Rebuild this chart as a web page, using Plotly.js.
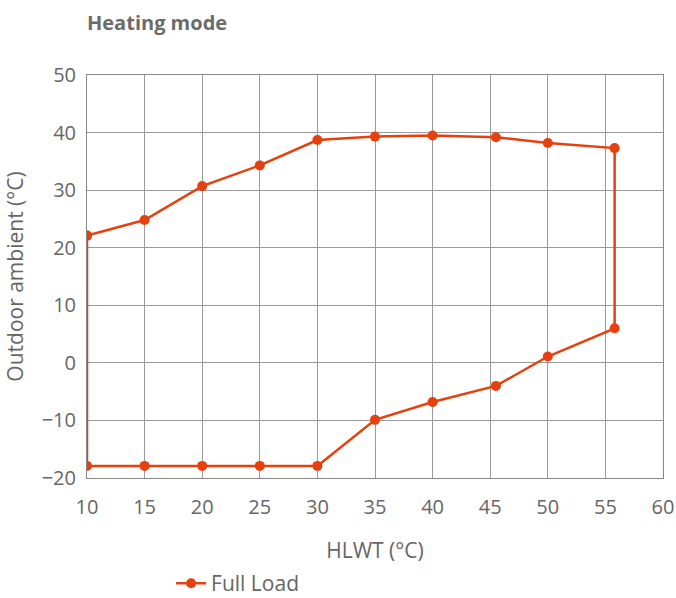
<!DOCTYPE html>
<html>
<head>
<meta charset="utf-8">
<script src="https://cdn.plot.ly/plotly-3.0.1.min.js"></script>
<style>html,body{margin:0;padding:0;background:#fff;}#chart{width:676px;height:598px;}</style>
</head>
<body>
<div id="chart"></div>
<script>
const hlwt = [10, 15, 20, 25, 30, 35, 40, 45.5, 50, 55.8, 55.8, 50, 45.5, 40, 35, 30, 25, 20, 15, 10, 10];
const outdoor = [22.1, 24.8, 30.7, 34.3, 38.7, 39.3, 39.5, 39.2, 38.2, 37.3, 6.0, 1.1, -4.0, -6.8, -9.9, -17.9, -17.9, -17.9, -17.9, -17.9, 22.1];
const seriesName = 'Full Load';
const xTicks = [10, 15, 20, 25, 30, 35, 40, 45, 50, 55, 60];
const yTicks = [-20, -10, 0, 10, 20, 30, 40, 50];

const trace = {
  x: hlwt, y: outdoor, name: seriesName, type: 'scatter', mode: 'lines+markers',
  line: {color: '#e5400e', width: 2.5},
  marker: {color: '#e5400e', size: 10},
  showlegend: true
};
const layout = {
  width: 676, height: 598,
  margin: {l: 87, r: 13, t: 75, b: 120, autoexpand: false},
  paper_bgcolor: '#fff', plot_bgcolor: '#fff',
  font: {family: 'Open Sans, Noto Sans, sans-serif', color: '#666', size: 20},
  title: {text: '<b>Heating mode</b>', x: 87/676, xanchor: 'left', y: 0.962, yanchor: 'middle', font: {size: 20, color: '#6b6b6b'}},
  xaxis: {
    range: [10, 60], tickvals: xTicks, ticktext: xTicks.map(String),
    showgrid: true, gridcolor: '#9a9a9a', gridwidth: 1,
    zeroline: false, showline: true, linecolor: '#888', mirror: true,
    ticks: '', ticklabelstandoff: 11, tickfont: {size: 20, color: '#666'},
    automargin: false,
    title: {text: 'HLWT (°C)', font: {size: 21, color: '#666'}, standoff: 24}
  },
  yaxis: {
    range: [-20, 50], tickvals: yTicks, ticktext: yTicks.map(v => v < 0 ? '\u2212' + Math.abs(v) : String(v)),
    showgrid: true, gridcolor: '#9a9a9a', gridwidth: 1,
    zeroline: false, showline: true, linecolor: '#888', mirror: true,
    ticks: '', ticklabelstandoff: 6, tickfont: {size: 20, color: '#666'},
    automargin: false,
    title: {text: 'Outdoor ambient (°C)', font: {size: 21, color: '#666'}, standoff: 12}
  },
  legend: {orientation: 'h', x: 0.146, xanchor: 'left', y: -0.262, yanchor: 'middle', font: {size: 21, color: '#666'}}
};
Plotly.newPlot('chart', [trace], layout, {displayModeBar: false, staticPlot: true});
</script>
</body>
</html>
